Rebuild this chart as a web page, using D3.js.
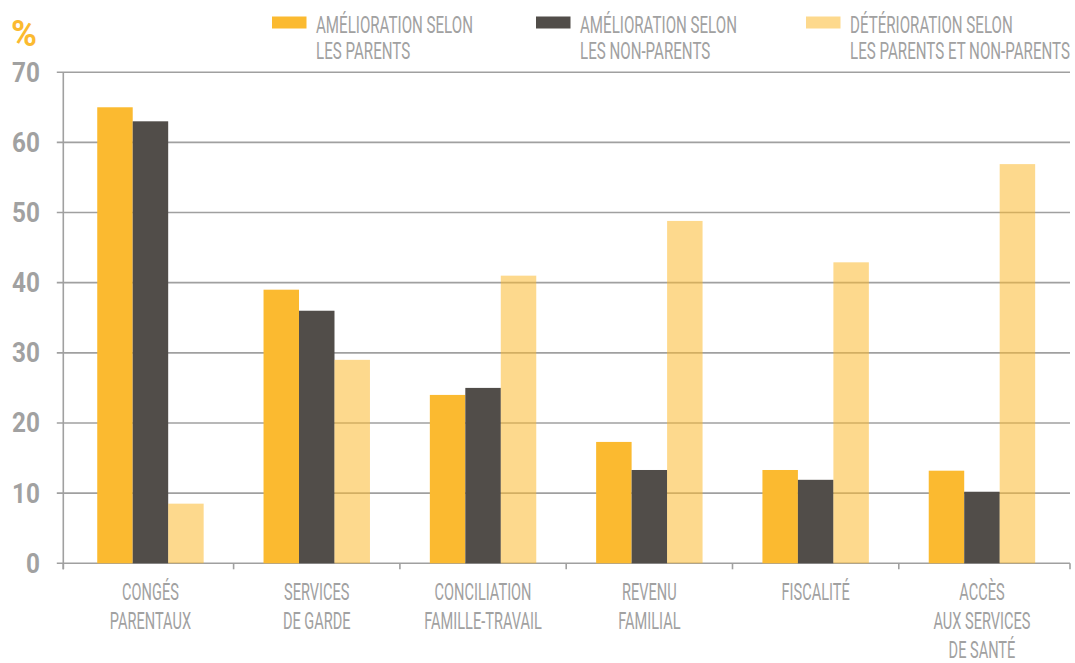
<!DOCTYPE html>
<html><head><meta charset="utf-8">
<script src="https://cdn.jsdelivr.net/npm/d3@7"></script>
<style>html,body{margin:0;padding:0;background:#fff;}svg{display:block;}</style>
</head><body>
<script>
const categories = ["CONGÉS\nPARENTAUX","SERVICES\nDE GARDE","CONCILIATION\nFAMILLE-TRAVAIL","REVENU\nFAMILIAL","FISCALITÉ","ACCÈS\nAUX SERVICES\nDE SANTÉ"];
const seriesNames = ["AMÉLIORATION SELON\nLES PARENTS","AMÉLIORATION SELON\nLES NON-PARENTS","DÉTÉRIORATION SELON\nLES PARENTS ET NON-PARENTS"];
const amelioParents = [65, 39, 24, 17.3, 13.3, 13.2];
const amelioNonParents = [63, 36, 25, 13.3, 11.9, 10.2];
const deterioration = [8.5, 29, 41, 48.8, 42.9, 56.9];
const yTicks = [0, 10, 20, 30, 40, 50, 60, 70];
const unitLabel = "%";

const W = 1075, H = 663;
const colors = ["#fbba30", "#514d49", "#fbba30"];
const opac = [1, 1, 0.55];
const gray = "#a0a0a0";
const txt = "#a1a1a1";
const FONT = "Roboto, 'Liberation Sans', sans-serif";

const svg = d3.select("body").append("svg").attr("width", W).attr("height", H);

const axisLeft = 63.3, axisRight = 1070;
const y = d3.scaleLinear().domain([0, 70]).range([563.3, 72.2]);
const x0 = d3.scaleBand().domain(categories).range([67.3, 1065.1]).paddingInner(0.36).paddingOuter(0.18);
const keys = [0, 1, 2];
const x1 = d3.scaleBand().domain(keys).range([0, x0.bandwidth()]).padding(0);
const data = categories.map((c, i) => ({cat: c, vals: [amelioParents[i], amelioNonParents[i], deterioration[i]]}));

// gridlines
svg.append("g").selectAll("line").data(yTicks).join("line")
  .attr("x1", axisLeft - 6.5).attr("x2", axisRight)
  .attr("y1", d => y(d)).attr("y2", d => y(d))
  .attr("stroke", gray).attr("stroke-width", 1.6);

// y axis line
svg.append("line").attr("x1", axisLeft).attr("x2", axisLeft)
  .attr("y1", y(70)).attr("y2", y(0) + 6)
  .attr("stroke", gray).attr("stroke-width", 1.6);

// x ticks at band boundaries
const step = x0.step();
const bounds = [axisLeft].concat(categories.slice(1).map(c => x0(c) - step * 0.18)).concat([axisRight]);
svg.append("g").selectAll("line").data(bounds).join("line")
  .attr("x1", d => d).attr("x2", d => d)
  .attr("y1", y(0)).attr("y2", y(0) + 6)
  .attr("stroke", gray).attr("stroke-width", 1.6);

// bars
svg.append("g").selectAll("g").data(data).join("g")
  .attr("transform", d => `translate(${x0(d.cat)},0)`)
  .selectAll("rect").data(d => d.vals.map((v, k) => ({k, v}))).join("rect")
  .attr("x", d => x1(d.k)).attr("width", x1.bandwidth())
  .attr("y", d => y(d.v)).attr("height", d => y(0) - y(d.v))
  .attr("fill", d => colors[d.k]).attr("fill-opacity", d => opac[d.k]);

// y tick labels
svg.append("g").selectAll("text").data(yTicks).join("text")
  .attr("transform", d => `translate(40,${y(d) + 9.5}) scale(0.9,1)`)
  .attr("text-anchor", "end")
  .attr("font-family", FONT).attr("font-weight", 700).attr("font-size", 27)
  .attr("fill", txt).text(d => d);

// unit
svg.append("text").attr("transform", "translate(11,45.5) scale(0.95,1)")
  .attr("font-family", FONT).attr("font-weight", 700).attr("font-size", 37)
  .attr("fill", "#fbba30").text(unitLabel);

// category labels
const SX = 0.62;
const cl = svg.append("g").selectAll("g").data(categories).join("g")
  .attr("transform", c => `translate(${x0(c) + x0.bandwidth() / 2},0)`);
cl.selectAll("text").data(c => c.split("\n")).join("text")
  .attr("transform", (d, i) => `translate(0,${599.5 + i * 29}) scale(${SX},1)`)
  .attr("text-anchor", "middle")
  .attr("font-family", FONT).attr("font-size", 23.5)
  .attr("fill", txt).text(d => d);

// legend
const legX = [272, 536, 806];
const lg = svg.append("g").selectAll("g").data(seriesNames).join("g")
  .attr("transform", (d, i) => `translate(${legX[i]},0)`);
lg.append("rect").attr("x", 0).attr("y", 16.5).attr("width", 34.5).attr("height", 12)
  .attr("fill", (d, i) => colors[i]).attr("fill-opacity", (d, i) => opac[i]);
lg.selectAll("text").data(d => d.split("\n")).join("text")
  .attr("transform", (d, i) => `translate(44,${32.7 + i * 25.8}) scale(0.63,1)`)
  .attr("font-family", FONT).attr("font-size", 24)
  .attr("fill", txt).text(d => d);
</script>
</body></html>
